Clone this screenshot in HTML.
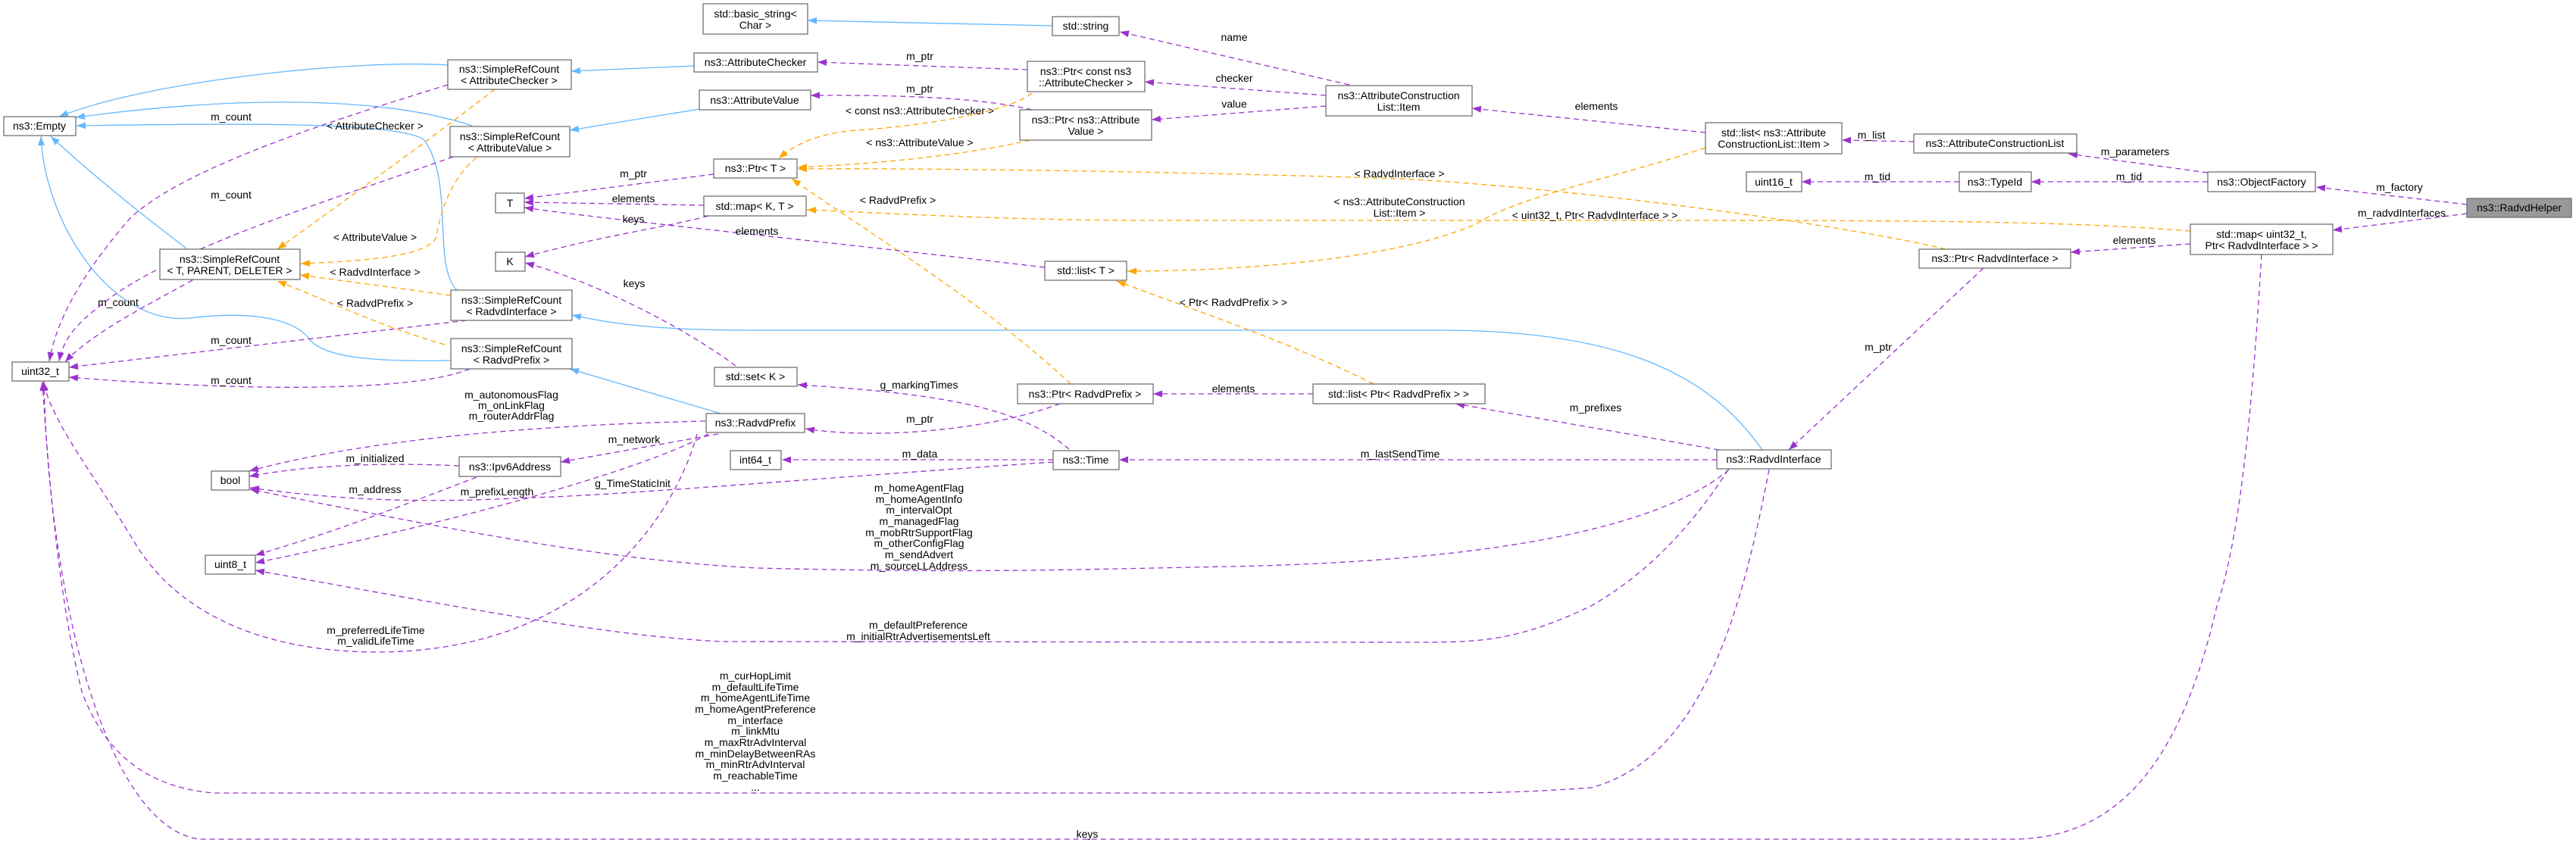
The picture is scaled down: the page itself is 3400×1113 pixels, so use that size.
<!DOCTYPE html>
<html><head><meta charset="utf-8"><style>
html,body{margin:0;padding:0;background:#fff;}
svg{display:block}
text{font-family:"Liberation Sans",sans-serif;font-size:14px;fill:#000;dominant-baseline:central}
.n rect{fill:#fff;stroke:#666;stroke-width:1.2}
.p{fill:none;stroke:#9a32cd;stroke-width:1.3;stroke-dasharray:7,5}
.o{fill:none;stroke:#ffa500;stroke-width:1.3;stroke-dasharray:7,5}
.b{fill:none;stroke:#63b8ff;stroke-width:1.3}
</style></head><body>
<svg width="3400" height="1113" viewBox="0 0 3400 1113" xmlns="http://www.w3.org/2000/svg">
<defs>
<marker id="mp" markerUnits="userSpaceOnUse" markerWidth="12" markerHeight="9" refX="12" refY="4.5" orient="auto"><path d="M0,0 L12,4.5 L0,9 z" fill="#9a32cd"/></marker>
<marker id="mo" markerUnits="userSpaceOnUse" markerWidth="12" markerHeight="9" refX="12" refY="4.5" orient="auto"><path d="M0,0 L12,4.5 L0,9 z" fill="#ffa500"/></marker>
<marker id="mb" markerUnits="userSpaceOnUse" markerWidth="12" markerHeight="9" refX="12" refY="4.5" orient="auto"><path d="M0,0 L12,4.5 L0,9 z" fill="#63b8ff"/></marker>
</defs>

<!-- blue inheritance -->
<g marker-end="url(#mb)">
<path class="b" d="M591,86 C480,78 200,105 78,154"/>
<path class="b" d="M623,166 C500,125 300,128 100,155"/>
<path class="b" d="M603,383 C570,350 600,240 560,185 C530,160 300,163 101,166"/>
<path class="b" d="M595,476 C480,478 430,470 410,450 C390,420 330,410 250,420 C150,430 60,300 54,180"/>
<path class="b" d="M246,328 C170,270 110,220 67,180"/>
<path class="b" d="M916,87 L754,94"/>
<path class="b" d="M923,144 L752,172"/>
<path class="b" d="M1389,34 L1066,27"/>
<path class="b" d="M2326,594 C2260,500 2150,436 1900,436 L990,436 C850,436 800,425 755,416"/>
<path class="b" d="M951,546 L752,487"/>
</g>

<!-- orange template -->
<g marker-end="url(#mo)">
<path class="o" d="M653,118 C560,190 420,290 366,329"/>
<path class="o" d="M629,208 C590,240 580,290 575,315 C560,340 470,345 397,348"/>
<path class="o" d="M595,390 L396,363"/>
<path class="o" d="M587,455 C500,430 440,400 366,371"/>
<path class="o" d="M1362,123 C1330,150 1200,168 1130,172 C1080,176 1050,190 1028,209"/>
<path class="o" d="M1360,185 C1250,210 1120,218 1053,221"/>
<path class="o" d="M2568,329 C2450,300 2100,250 1850,236 C1500,225 1200,222 1053,223"/>
<path class="o" d="M2891,305 C2700,290 2500,291 2000,291 L1500,291 C1300,290 1150,280 1065,277"/>
<path class="o" d="M2251,195 C2150,230 2000,260 1950,295 C1850,340 1650,358 1488,358"/>
<path class="o" d="M1813,507 C1700,450 1550,400 1474,371"/>
<path class="o" d="M1413,507 C1300,400 1150,310 1045,236"/>
</g>

<!-- purple members -->
<g marker-end="url(#mp)">
<path class="p" d="M3256,270 L3057,247"/>
<path class="p" d="M3256,282 L3079,304"/>
<path class="p" d="M2914,228 L2730,203"/>
<path class="p" d="M2914,240 L2681,240"/>
<path class="p" d="M2586,240 L2378,240"/>
<path class="p" d="M2526,187 L2431,185"/>
<path class="p" d="M2251,175 L1943,143"/>
<path class="p" d="M1781,112 L1478,42"/>
<path class="p" d="M1750,126 L1511,108"/>
<path class="p" d="M1750,140 L1520,158"/>
<path class="p" d="M1356,92 L1079,82"/>
<path class="p" d="M1362,145 C1300,130 1200,125 1070,126"/>
<path class="p" d="M942,230 L692,262"/>
<path class="p" d="M929,271 L692,267"/>
<path class="p" d="M935,285 C880,300 800,310 693,339"/>
<path class="p" d="M1379,353 C1100,320 800,290 692,274"/>
<path class="p" d="M971,483 C900,430 780,370 693,347"/>
<path class="p" d="M591,112 C400,170 230,230 170,290 C110,360 75,420 65,477"/>
<path class="p" d="M598,207 C450,260 250,320 150,390 C110,420 85,440 78,477"/>
<path class="p" d="M254,370 C200,400 120,440 86,478"/>
<path class="p" d="M616,423 L91,485"/>
<path class="p" d="M620,487 C540,520 300,515 91,498"/>
<path class="p" d="M931,556 C750,560 500,575 329,622"/>
<path class="p" d="M606,615 C500,610 400,615 329,629"/>
<path class="p" d="M629,630 C550,660 450,700 337,733"/>
<path class="p" d="M948,573 L740,610"/>
<path class="p" d="M935,573 C850,620 600,690 337,743"/>
<path class="p" d="M1390,610 C1100,630 800,655 700,657 C550,665 450,660 330,644"/>
<path class="p" d="M920,573 C900,650 800,860 497,861 C330,860 230,800 180,720 C120,620 70,560 57,504"/>
<path class="p" d="M1399,533 C1300,570 1150,580 1063,566"/>
<path class="p" d="M1411,593 C1350,540 1250,520 1053,508"/>
<path class="p" d="M1390,607 L1032,607"/>
<path class="p" d="M1733,520 L1522,520"/>
<path class="p" d="M2269,594 L1921,533"/>
<path class="p" d="M2266,607 L1477,607"/>
<path class="p" d="M2618,354 L2361,594"/>
<path class="p" d="M2891,322 L2733,333"/>
<path class="p" d="M2985,336 C2975,500 2960,700 2926,800 C2880,1000 2800,1108 2655,1108 L265,1108 C180,1100 120,950 90,800 C70,700 60,600 58,504"/>
<path class="p" d="M2282,620 C2200,690 2000,740 1625,748 C1400,752 1300,757 1000,750 C800,740 600,700 330,646"/>
<path class="p" d="M2281,620 C2230,700 2170,760 2100,800 C2000,848 1950,848 1864,848 L953,847 C800,840 600,800 337,753"/>
<path class="p" d="M2335,620 C2300,800 2250,1000 2100,1040 C2000,1047 1950,1047 1875,1047 L282,1047 C200,1040 140,1000 108,913 C80,800 65,650 56,504"/>
</g>

<!-- edge labels -->
<g text-anchor="middle">
<text x="495" y="166">&lt; AttributeChecker &gt;</text>
<text x="495" y="313">&lt; AttributeValue &gt;</text>
<text x="495" y="359">&lt; RadvdInterface &gt;</text>
<text x="495" y="400">&lt; RadvdPrefix &gt;</text>
<text x="1214" y="146">&lt; const ns3::AttributeChecker &gt;</text>
<text x="1214" y="188">&lt; ns3::AttributeValue &gt;</text>
<text x="1847" y="229">&lt; RadvdInterface &gt;</text>
<text x="2105" y="284">&lt; uint32_t, Ptr&lt; RadvdInterface &gt; &gt;</text>
<text x="1847" y="266">&lt; ns3::AttributeConstruction</text>
<text x="1847" y="281">List::Item &gt;</text>
<text x="1628" y="399">&lt; Ptr&lt; RadvdPrefix &gt; &gt;</text>
<text x="1185" y="264">&lt; RadvdPrefix &gt;</text>
<text x="3167" y="247">m_factory</text>
<text x="3170" y="281">m_radvdInterfaces</text>
<text x="2818" y="200">m_parameters</text>
<text x="2810" y="233">m_tid</text>
<text x="2478" y="233">m_tid</text>
<text x="2470" y="178">m_list</text>
<text x="2107" y="140">elements</text>
<text x="1629" y="49">name</text>
<text x="1629" y="103">checker</text>
<text x="1629" y="137">value</text>
<text x="1214" y="74">m_ptr</text>
<text x="1214" y="117">m_ptr</text>
<text x="836" y="229">m_ptr</text>
<text x="836" y="262">elements</text>
<text x="836" y="289">keys</text>
<text x="999" y="305">elements</text>
<text x="837" y="374">keys</text>
<text x="305" y="154">m_count</text>
<text x="305" y="257">m_count</text>
<text x="156" y="399">m_count</text>
<text x="305" y="449">m_count</text>
<text x="305" y="502">m_count</text>
<text x="675" y="521">m_autonomousFlag</text>
<text x="675" y="535">m_onLinkFlag</text>
<text x="675" y="549">m_routerAddrFlag</text>
<text x="495" y="605">m_initialized</text>
<text x="495" y="646">m_address</text>
<text x="837" y="580">m_network</text>
<text x="656" y="649">m_prefixLength</text>
<text x="835" y="638">g_TimeStaticInit</text>
<text x="496" y="832">m_preferredLifeTime</text>
<text x="496" y="846">m_validLifeTime</text>
<text x="1214" y="553">m_ptr</text>
<text x="1213" y="508">g_markingTimes</text>
<text x="1214" y="599">m_data</text>
<text x="1628" y="513">elements</text>
<text x="2106" y="538">m_prefixes</text>
<text x="1848" y="599">m_lastSendTime</text>
<text x="2479" y="458">m_ptr</text>
<text x="2817" y="317">elements</text>
<text x="1435" y="1101">keys</text>
<text x="1213" y="644">m_homeAgentFlag</text>
<text x="1213" y="659">m_homeAgentInfo</text>
<text x="1213" y="673">m_intervalOpt</text>
<text x="1213" y="688">m_managedFlag</text>
<text x="1213" y="703">m_mobRtrSupportFlag</text>
<text x="1213" y="717">m_otherConfigFlag</text>
<text x="1213" y="732">m_sendAdvert</text>
<text x="1213" y="747">m_sourceLLAddress</text>
<text x="1212" y="825">m_defaultPreference</text>
<text x="1212" y="840">m_initialRtrAdvertisementsLeft</text>
<text x="997" y="892">m_curHopLimit</text>
<text x="997" y="907">m_defaultLifeTime</text>
<text x="997" y="921">m_homeAgentLifeTime</text>
<text x="997" y="936">m_homeAgentPreference</text>
<text x="997" y="951">m_interface</text>
<text x="997" y="965">m_linkMtu</text>
<text x="997" y="980">m_maxRtrAdvInterval</text>
<text x="997" y="995">m_minDelayBetweenRAs</text>
<text x="997" y="1009">m_minRtrAdvInterval</text>
<text x="997" y="1024">m_reachableTime</text>
<text x="997" y="1039">...</text>
</g>

<!-- nodes -->
<g class="n" text-anchor="middle">
<rect x="5" y="154" width="95" height="25"/><text x="52" y="166">ns3::Empty</text>
<rect x="591" y="79" width="163" height="39"/><text x="672" y="91">ns3::SimpleRefCount</text><text x="672" y="106">&lt; AttributeChecker &gt;</text>
<rect x="594" y="167" width="158" height="40"/><text x="673" y="180">ns3::SimpleRefCount</text><text x="673" y="195">&lt; AttributeValue &gt;</text>
<rect x="211" y="329" width="185" height="40"/><text x="303" y="342">ns3::SimpleRefCount</text><text x="303" y="357">&lt; T, PARENT, DELETER &gt;</text>
<rect x="595" y="383" width="160" height="40"/><text x="675" y="396">ns3::SimpleRefCount</text><text x="675" y="411">&lt; RadvdInterface &gt;</text>
<rect x="595" y="447" width="160" height="40"/><text x="675" y="460">ns3::SimpleRefCount</text><text x="675" y="475">&lt; RadvdPrefix &gt;</text>
<rect x="16" y="478" width="75" height="25"/><text x="53" y="490">uint32_t</text>
<rect x="654" y="255" width="38" height="26"/><text x="673" y="268">T</text>
<rect x="654" y="333" width="39" height="25"/><text x="673" y="345">K</text>
<rect x="279" y="622" width="50" height="25"/><text x="304" y="634">bool</text>
<rect x="271" y="733" width="66" height="25"/><text x="304" y="745">uint8_t</text>
<rect x="606" y="603" width="134" height="26"/><text x="673" y="616">ns3::Ipv6Address</text>
<rect x="928" y="5" width="138" height="40"/><text x="997" y="18">std::basic_string&lt;</text><text x="997" y="33">Char &gt;</text>
<rect x="916" y="70" width="163" height="25"/><text x="997" y="82">ns3::AttributeChecker</text>
<rect x="923" y="119" width="147" height="26"/><text x="996" y="132">ns3::AttributeValue</text>
<rect x="942" y="210" width="110" height="25"/><text x="997" y="222">ns3::Ptr&lt; T &gt;</text>
<rect x="929" y="259" width="135" height="26"/><text x="996" y="272">std::map&lt; K, T &gt;</text>
<rect x="1389" y="22" width="88" height="25"/><text x="1433" y="34">std::string</text>
<rect x="1356" y="81" width="155" height="40"/><text x="1433" y="94">ns3::Ptr&lt; const ns3</text><text x="1433" y="109">::AttributeChecker &gt;</text>
<rect x="1346" y="145" width="174" height="40"/><text x="1433" y="158">ns3::Ptr&lt; ns3::Attribute</text><text x="1433" y="173">Value &gt;</text>
<rect x="1750" y="113" width="193" height="40"/><text x="1846" y="126">ns3::AttributeConstruction</text><text x="1846" y="141">List::Item</text>
<rect x="2251" y="162" width="180" height="41"/><text x="2341" y="175">std::list&lt; ns3::Attribute</text><text x="2341" y="190">ConstructionList::Item &gt;</text>
<rect x="2305" y="227" width="73" height="26"/><text x="2341" y="240">uint16_t</text>
<rect x="2526" y="177" width="215" height="25"/><text x="2633" y="189">ns3::AttributeConstructionList</text>
<rect x="2586" y="227" width="95" height="26"/><text x="2633" y="240">ns3::TypeId</text>
<rect x="2914" y="227" width="142" height="26"/><text x="2985" y="240">ns3::ObjectFactory</text>
<rect x="3256" y="262" width="138" height="25" style="fill:#999"/><text x="3325" y="274">ns3::RadvdHelper</text>
<rect x="2891" y="296" width="188" height="40"/><text x="2985" y="309">std::map&lt; uint32_t,</text><text x="2985" y="324">Ptr&lt; RadvdInterface &gt; &gt;</text>
<rect x="2533" y="329" width="200" height="25"/><text x="2633" y="341">ns3::Ptr&lt; RadvdInterface &gt;</text>
<rect x="1379" y="345" width="108" height="25"/><text x="1433" y="357">std::list&lt; T &gt;</text>
<rect x="943" y="485" width="109" height="25"/><text x="997" y="497">std::set&lt; K &gt;</text>
<rect x="932" y="546" width="130" height="25"/><text x="997" y="558">ns3::RadvdPrefix</text>
<rect x="1343" y="507" width="179" height="26"/><text x="1432" y="520">ns3::Ptr&lt; RadvdPrefix &gt;</text>
<rect x="964" y="595" width="67" height="25"/><text x="997" y="607">int64_t</text>
<rect x="1390" y="595" width="87" height="25"/><text x="1433" y="607">ns3::Time</text>
<rect x="1733" y="507" width="227" height="26"/><text x="1846" y="520">std::list&lt; Ptr&lt; RadvdPrefix &gt; &gt;</text>
<rect x="2266" y="594" width="151" height="25"/><text x="2341" y="606">ns3::RadvdInterface</text>
</g>
</svg>
</body></html>
